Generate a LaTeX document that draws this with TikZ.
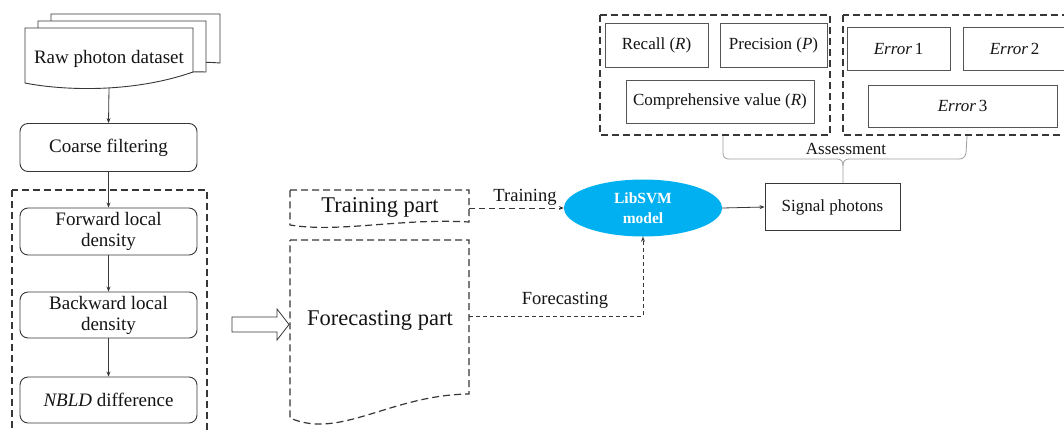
\documentclass[tikz,border=0pt]{standalone}
\usepackage{fontspec}
\setmainfont{Liberation Serif}
\usetikzlibrary{calc,arrows.meta,shapes.geometric}
\definecolor{svmblue}{RGB}{0,176,240}
\definecolor{ln}{RGB}{55,55,55}
\definecolor{txt}{RGB}{20,20,20}
\begin{document}
\begin{tikzpicture}[x=1pt,y=-1pt,
 every node/.style={text=txt},
 rbox/.style={draw=ln, rounded corners=8pt, minimum width=177pt, inner sep=0pt, align=center, font=\fontsize{19}{21}\selectfont, line width=0.9pt},
 sbox/.style={draw=ln!85, line width=0.9pt, font=\fontsize{17}{20}\selectfont, inner sep=0pt},
 grp/.style={draw=ln, line width=1.2pt, dash pattern=on 7pt off 4pt},
 docline/.style={draw=ln, line width=0.9pt, fill=white},
 arr/.style={-{Stealth[length=5pt,width=4pt]}, draw=ln, line width=0.8pt},
 darr/.style={arr, dash pattern=on 6pt off 4pt},
 lbl/.style={font=\fontsize{18.5}{20}\selectfont, inner sep=1pt},
 bigtxt/.style={font=\fontsize{22.5}{24}\selectfont, inner sep=1pt},
]
\useasboundingbox (0,0) rectangle (1064,429);
\clip (0,0) rectangle (1064,429);
\fill[white] (0,0) rectangle (1064,429);

% ---- stacked raw documents ----
\draw[docline] (51,14) -- (220,14) -- (220,63) .. controls (160,58) and (110,80) .. (51,72) -- cycle;
\draw[docline] (38,21) -- (206,21) -- (206,72) .. controls (150,70) and (100,88) .. (38,80) -- cycle;
\draw[docline] (25,28) -- (193,28) -- (193,72) .. controls (130,94) and (60,90) .. (25,83) -- cycle;
\node[font=\fontsize{19}{21}\selectfont, inner sep=0pt] (raw) at (109,59) {Raw photon dataset};
\coordinate (rawb) at (109,88);

% ---- left column ----
\node[rbox, minimum height=48pt] (coarse) at (108.5,147.5) {Coarse filtering};
\draw[grp] (12,190) rectangle (207,460);
\node[rbox, minimum height=47pt] (fwd) at (108.5,231.5) {Forward local\\density};
\node[rbox, minimum height=46pt] (bwd) at (108.5,315) {Backward local\\density};
\node[rbox, minimum height=46pt] (nbld) at (108.5,400) {\textit{NBLD} difference};

\draw[arr] (rawb) -- (coarse.north);
\draw[arr] (coarse.south) -- (fwd.north);
\draw[arr] (fwd.south) -- (bwd.north);
\draw[arr] (bwd.south) -- (nbld.north);

% ---- hollow arrow ----
\draw[ln, line width=0.8pt, fill=white] (232,317) -- (277,317) -- (277,309) -- (289,324.5) -- (277,340) -- (277,332) -- (232,332) -- cycle;

% ---- training / forecasting documents ----
\draw[grp] (290,190) -- (469,190) -- (469,222) .. controls (400,218) and (340,233) .. (290,225) -- cycle;
\node[bigtxt] (train) at (380,207) {Training part};
\draw[grp] (290,240) -- (469,240) -- (469,394) .. controls (390,395) and (340,440) .. (290,418) -- cycle;
\node[bigtxt] (fore) at (380,320) {Forecasting part};
\coordinate (trainout) at (469,208);
\coordinate (foreout) at (469,316);

% ---- LibSVM ----
\node[ellipse, fill=svmblue, minimum width=158pt, minimum height=57pt, inner sep=0pt,
      text=white, align=center, font=\bfseries\fontsize{15.5}{20}\selectfont] (svm) at (643,208) {LibSVM\\model};
\node[sbox, draw=ln, minimum width=135pt, minimum height=47pt] (signal) at (832.5,207) {Signal photons};

\draw[darr] (trainout) -- (svm.west);
\node[lbl] (ltrain) at (525,197) {Training};
\draw[arr, dash pattern=on 4pt off 3pt] (foreout) -| (svm.south);
\node[lbl] (lfore) at (565,300) {Forecasting};
\draw[arr] (svm.east) -- (signal.west);

% ---- assessment groups ----
\draw[grp] (600,15) rectangle (830,135);
\draw[grp] (843,15) rectangle (1100,135);
\node[sbox, minimum width=103pt, minimum height=44pt] (recall) at (656.5,45) {Recall (\textit{R})};
\node[sbox, minimum width=107pt, minimum height=44pt] (prec) at (773.5,45) {Precision (\textit{P})};
\node[sbox, minimum width=188pt, minimum height=43pt] (comp) at (720,101.5) {Comprehensive value (\textit{R})};
\node[sbox, minimum width=103pt, minimum height=43pt] (err1) at (898.5,48.5) {\textit{Error}\,1};
\node[sbox, minimum width=103pt, minimum height=43pt] (err2) at (1014.5,48.5) {\textit{Error}\,2};
\node[sbox, minimum width=189pt, minimum height=42pt] (err3) at (962.5,106) {\textit{Error}\,3};

% ---- brace ----
\coordinate (btip) at (843,159);
\draw[gray!75, line width=0.8pt] (723,136) -- (723,153) .. controls (723,157) and (725,159) .. (729,159) -- (837,159) .. controls (841,159) and (843,161) .. (843,166) -- (btip |- signal.north);
\draw[gray!75, line width=0.8pt] (967,136) -- (966,153) .. controls (965,157) and (963,159) .. (959,159) -- (849,159) .. controls (845,159) and (843,161) .. (843,166);
\node[font=\fontsize{17}{20}\selectfont, inner sep=0pt] (assess) at (846,149) {Assessment};
\end{tikzpicture}
\end{document}
